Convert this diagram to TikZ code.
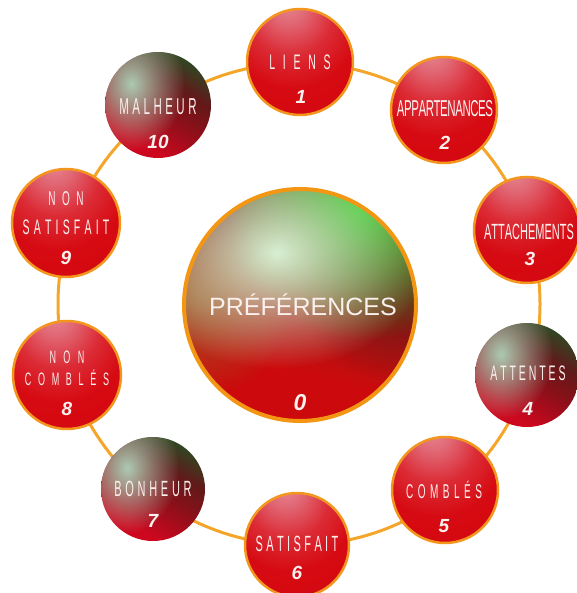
\documentclass[tikz,border=0pt]{standalone}
\usepackage{fontspec}
\setmainfont{Liberation Sans}
\newfontfamily\tagfont[FakeStretch=0.5]{Liberation Sans}
\newfontfamily\digitfont{Liberation Sans}
\usetikzlibrary{fadings,calc}

\definecolor{ringorange}{RGB}{244,166,42}
\definecolor{rimorange}{RGB}{243,150,30}
\definecolor{hubrim}{RGB}{242,150,20}
\definecolor{inkwhite}{RGB}{250,240,238}
\definecolor{palegreen}{RGB}{172,202,178}
\definecolor{mint}{RGB}{216,240,210}
\definecolor{leafgreen}{RGB}{45,205,30}
\definecolor{olivebrown}{RGB}{150,110,45}
\definecolor{maroon}{RGB}{105,22,24}

% words set with a fixed gap between letters
\makeatletter
\newcommand\spaced[2]{{\def\sp@gap{#1}\sp@first#2\relax}}
\def\sp@first#1{\ifx#1\relax\else#1\expandafter\sp@next\fi}
\def\sp@next#1{\ifx#1\relax\else\kern\sp@gap\relax#1\expandafter\sp@next\fi}
\makeatother

% glossy red bubble
\pgfdeclareradialshading{redgloss}{\pgfpoint{-6bp}{30bp}}{%
  rgb(0bp)=(0.90,0.56,0.60); rgb(9bp)=(0.88,0.40,0.45); rgb(20bp)=(0.86,0.17,0.21);
  rgb(32bp)=(0.84,0.04,0.07); rgb(90bp)=(0.81,0.0,0.04)}
% green over red bubble
\pgfdeclareverticalshading{greenred}{100bp}{%
  rgb(0bp)=(0.85,0.02,0.12); rgb(30bp)=(0.80,0.03,0.12); rgb(48bp)=(0.55,0.06,0.10);
  rgb(62bp)=(0.38,0.10,0.10); rgb(80bp)=(0.12,0.34,0.15); rgb(100bp)=(0.05,0.42,0.18)}
% central bubble base
\pgfdeclareverticalshading{hubbase}{100bp}{%
  rgb(0bp)=(0.80,0.02,0.04); rgb(36bp)=(0.80,0.04,0.05); rgb(50bp)=(0.64,0.08,0.07);
  rgb(62bp)=(0.46,0.10,0.09); rgb(78bp)=(0.35,0.28,0.14); rgb(100bp)=(0.25,0.55,0.20)}
% soft round glow
\tikzfading[name=glow, inner color=transparent!0, outer color=transparent!100]

\tikzset{
  redbubble/.style={circle, inner sep=0pt, minimum size={2*#1pt}, draw=rimorange, line width=2.5pt,
    path picture={\shade[shading=redgloss] (path picture bounding box.south west) rectangle (path picture bounding box.north east);}},
  greenbubble/.style={circle, inner sep=0pt, minimum size={2*#1pt},
    path picture={
      \shade[shading=greenred, shading angle=-30] (path picture bounding box.south west) rectangle (path picture bounding box.north east);
      \fill[palegreen, path fading=glow] ($(path picture bounding box.center)+(-0.5*#1pt,0.4*#1pt)$) ellipse [x radius=1.0*#1pt, y radius=1.25*#1pt];
    }},
  hubbubble/.style={circle, inner sep=0pt, minimum size={2*#1pt}, draw=hubrim, line width=4pt,
    path picture={
      \shade[shading=hubbase, shading angle=-15] (path picture bounding box.south west) rectangle (path picture bounding box.north east);
      \fill[maroon, path fading=glow, fill opacity=0.8] ($(path picture bounding box.center)+(0.8*#1pt,0.15*#1pt)$) circle [radius=0.8*#1pt];
      \fill[olivebrown, path fading=glow, fill opacity=0.75] ($(path picture bounding box.center)+(-0.9*#1pt,0.05*#1pt)$) circle [radius=0.85*#1pt];
      \fill[leafgreen, path fading=glow] ($(path picture bounding box.center)+(0.55*#1pt,0.9*#1pt)$) circle [radius=1.2*#1pt];
      \fill[mint, path fading=glow] ($(path picture bounding box.center)+(-0.2*#1pt,0.45*#1pt)$) ellipse [x radius=1.3*#1pt, y radius=1.0*#1pt];
    }},
  ringline/.style={draw=ringorange, line width=3pt},
  tag/.style={anchor=base, inner sep=0pt, text=inkwhite},
  digit/.style={anchor=base, inner sep=0pt, text=inkwhite, font=\digitfont\bfseries\itshape\fontsize{19}{19}\selectfont},
}

\begin{document}
\begin{tikzpicture}[x=1pt,y=-1pt]
\useasboundingbox (0,0) rectangle (576,593);

% the ring that links the ten bubbles
\coordinate (ringcentre) at (299,304);
\draw[ringline] (ringcentre) circle [radius=241pt];

% central bubble
\node[hubbubble=116] (hub) at (300,305) {};
\node[tag, font=\fontsize{25}{25}\selectfont] (hubname) at (303,315) {PRÉFÉRENCES};
\node[digit, font=\digitfont\bfseries\itshape\fontsize{23}{23}\selectfont] (hubnum) at (300,410) {0};

% 1
\node[redbubble=53] (liens) at (300,62) {};
\node[tag, font=\tagfont\fontsize{21}{21}\selectfont] (liensname) at (300,69.5) {\spaced{7.7pt}{LIENS}};
\node[digit] (liensnum) at (301,104) {1};
% 2
\node[redbubble=53] (appart) at (444,110) {};
\node[tag, font=\tagfont\fontsize{23}{23}\selectfont] (appartname) at (445,116.2) {\spaced{-0.45pt}{APPARTENANCES}};
\node[digit] (appartnum) at (445,150) {2};
% 3
\node[redbubble=53] (attach) at (527,230) {};
\node[tag, font=\tagfont\fontsize{22}{22}\selectfont] (attachname) at (529,240) {\spaced{0pt}{ATTACHEMENTS}};
\node[digit] (attachnum) at (530,265) {3};
% 4
\node[greenbubble=52] (attentes) at (527,375) {};
\node[tag, font=\tagfont\fontsize{21}{21}\selectfont] (attentesname) at (528,380.5) {\spaced{2.9pt}{ATTENTES}};
\node[digit] (attentesnum) at (528,415) {4};
% 5
\node[redbubble=53] (combles) at (445,490) {};
\node[tag, font=\tagfont\fontsize{20}{20}\selectfont] (comblesname) at (444,498) {\spaced{4.5pt}{COMBLÉS}};
\node[digit] (comblesnum) at (444,532) {5};
% 6
\node[redbubble=52] (satisf) at (297,545) {};
\node[tag, font=\tagfont\fontsize{22}{22}\selectfont] (satisfname) at (297,551) {\spaced{3.4pt}{SATISFAIT}};
\node[digit] (satisfnum) at (297,579) {6};
% 7
\node[greenbubble=52] (bonheur) at (153,489) {};
\node[tag, font=\tagfont\fontsize{22}{22}\selectfont] (bonheurname) at (153,496) {\spaced{3.7pt}{BONHEUR}};
\node[digit] (bonheurnum) at (153,527) {7};
% 8
\node[redbubble=54] (noncomb) at (67,375) {};
\node[tag, font=\tagfont\fontsize{18}{18}\selectfont] (noncombtop) at (67,363.5) {\spaced{7.5pt}{NON}};
\node[tag, font=\tagfont\fontsize{18}{18}\selectfont] (noncombname) at (67,385.5) {\spaced{6.7pt}{COMBLÉS}};
\node[digit] (noncombnum) at (67,415) {8};
% 9
\node[redbubble=54] (nonsat) at (66,223) {};
\node[tag, font=\tagfont\fontsize{20}{20}\selectfont] (nonsattop) at (66,206) {\spaced{6.4pt}{NON}};
\node[tag, font=\tagfont\fontsize{21}{21}\selectfont] (nonsatname) at (66,234.5) {\spaced{4.2pt}{SATISFAIT}};
\node[digit] (nonsatnum) at (66,264) {9};
% 10
\node[greenbubble=53] (malheur) at (158,105) {};
\node[tag, font=\tagfont\fontsize{23}{23}\selectfont] (malheurname) at (158,115) {\spaced{3.5pt}{MALHEUR}};
\node[digit] (malheurnum) at (158,149) {10};
\end{tikzpicture}
\end{document}
